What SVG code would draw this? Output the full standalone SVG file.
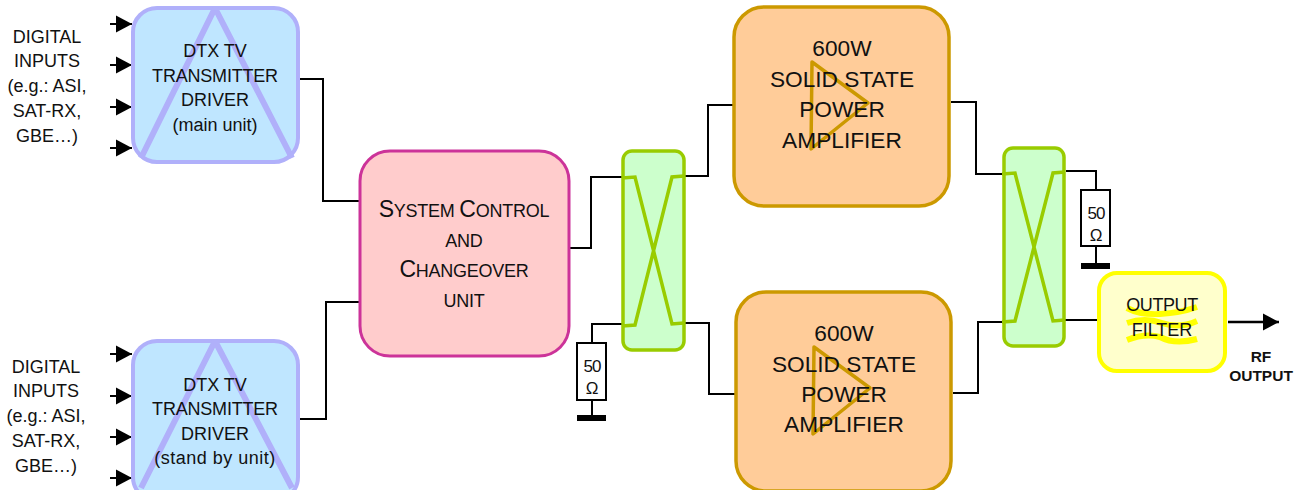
<svg xmlns="http://www.w3.org/2000/svg" width="1305" height="490" viewBox="0 0 1305 490">
<defs>
<marker id="a" markerUnits="userSpaceOnUse" markerWidth="17" markerHeight="18" refX="16" refY="9" orient="auto"><path d="M0 0.5L16 9L0 17.5Z" fill="#000"/></marker>
</defs>
<style>
text{font-family:"Liberation Sans",Arial,sans-serif;fill:#111;text-anchor:middle}
.t18{font-size:18px}.t23{font-size:22.7px}.t16{font-size:17px}
.drv{fill:#bfe6ff;stroke:#b0b0fa;stroke-width:4}
.tri1{fill:none;stroke:#b0b0fa;stroke-width:6;stroke-linejoin:bevel}
.pa{fill:#ffcc99;stroke:#cc9900;stroke-width:3.5}
.tri2{fill:none;stroke:#cc9900;stroke-width:3.5;stroke-linejoin:round}
.hyb{fill:#ccffcc;stroke:#99cc00;stroke-width:3.5}
.x{fill:none;stroke:#99cc00;stroke-width:3.5}
.w{fill:none;stroke:#000;stroke-width:2}
.in{fill:none;stroke:#000;stroke-width:2;marker-end:url(#a)}
.res{fill:#fff;stroke:#000;stroke-width:2}
.gnd{fill:#000}
.sq{fill:none;stroke:#ffff00;stroke-width:6}
</style>
<g id="connectors">
<path class="w" d="M300 79H323V201H360"/>
<path class="w" d="M299 419H326V302H360"/>
<path class="w" d="M568 248H591V177H623"/>
<path class="w" d="M684 176H708V105H734"/>
<path class="w" d="M684 323H709V394H736"/>
<path class="w" d="M951 102H976V174H1004"/>
<path class="w" d="M953 393H978V322H1004"/>
<path class="w" d="M1063 320H1098"/>
<path class="w" d="M1066 171H1096V190"/>
<path class="w" d="M1096 246V263"/>
<path class="w" d="M623 324H592V343"/>
<path class="w" d="M592 400V415"/>
<path class="in" d="M110 24H132"/>
<path class="in" d="M110 65H132"/>
<path class="in" d="M110 107H132"/>
<path class="in" d="M110 148H132"/>
<path class="in" d="M110 354H132"/>
<path class="in" d="M110 396H132"/>
<path class="in" d="M110 437H132"/>
<path class="in" d="M110 478H132"/>
<path d="M1228 322H1279" fill="none" stroke="#000" stroke-width="2.5" marker-end="url(#a)"/>
</g>
<g id="labels-top"><text class="t18"><tspan x="47" y="43">DIGITAL</tspan><tspan x="47" y="67">INPUTS</tspan><tspan x="47" y="92">(e.g.: ASI,</tspan><tspan x="47" y="117">SAT-RX,</tspan><tspan x="47" y="142">GBE…)</tspan></text></g>
<g id="labels-bottom"><text class="t18"><tspan x="46" y="373">DIGITAL</tspan><tspan x="46" y="397">INPUTS</tspan><tspan x="46" y="422">(e.g.: ASI,</tspan><tspan x="46" y="447">SAT-RX,</tspan><tspan x="46" y="472">GBE…)</tspan></text></g>
<g id="driver-main">
<rect class="drv" x="133" y="8" width="165" height="154" rx="24"/>
<path class="tri1" d="M141 158L215 8L292 158"/>
<text class="t18"><tspan x="215" y="57">DTX TV</tspan><tspan x="215" y="82" letter-spacing="-.2">TRANSMITTER</tspan><tspan x="215" y="106">DRIVER</tspan><tspan x="215" y="131">(main unit)</tspan></text>
</g>
<g id="driver-standby">
<rect class="drv" x="133" y="341" width="165" height="160" rx="24"/>
<path class="tri1" d="M141 488L215 341L292 488"/>
<text class="t18"><tspan x="215" y="391">DTX TV</tspan><tspan x="215" y="415" letter-spacing="-.2">TRANSMITTER</tspan><tspan x="215" y="440">DRIVER</tspan><tspan x="215" y="464" letter-spacing=".5">(stand by unit)</tspan></text>
</g>
<g id="control">
<rect x="360" y="151" width="209" height="205" rx="30" fill="#ffcccc" stroke="#cc3399" stroke-width="3"/>
<text letter-spacing="-.25"><tspan x="464" y="217" font-size="23">S</tspan><tspan font-size="18">YSTEM </tspan><tspan font-size="23">C</tspan><tspan font-size="18">ONTROL</tspan><tspan x="464" y="247" font-size="18">AND</tspan><tspan x="464" y="277" font-size="23">C</tspan><tspan font-size="18">HANGEOVER</tspan><tspan x="464" y="307" font-size="18">UNIT</tspan></text>
</g>
<g id="hybrid-1">
<rect class="hyb" x="623" y="151" width="61" height="199" rx="9"/>
<path class="x" d="M622 178L635 177L672 324L684 323M622 326L635 325L672 177L684 176"/>
</g>
<g id="load-1">
<rect class="res" x="577" y="343" width="29" height="57"/>
<text class="t16"><tspan x="592" y="372" letter-spacing="-1">50</tspan><tspan x="592" y="394">Ω</tspan></text>
<rect class="gnd" x="577" y="415" width="29" height="6"/>
</g>
<g id="pa-top">
<rect class="pa" x="734" y="7" width="215" height="199" rx="30"/>
<path class="tri2" d="M812 62L868 103L811 149Z"/>
<text class="t23"><tspan x="842" y="56">600W</tspan><tspan x="842" y="87">SOLID STATE</tspan><tspan x="842" y="117">POWER</tspan><tspan x="842" y="148">AMPLIFIER</tspan></text>
</g>
<g id="pa-bottom">
<rect class="pa" x="736" y="292" width="215" height="199" rx="30"/>
<path class="tri2" d="M814 347L870 388L813 434Z"/>
<text class="t23"><tspan x="844" y="341">600W</tspan><tspan x="844" y="372">SOLID STATE</tspan><tspan x="844" y="402">POWER</tspan><tspan x="844" y="432">AMPLIFIER</tspan></text>
</g>
<g id="hybrid-2">
<rect class="hyb" x="1004" y="148" width="60" height="198" rx="9"/>
<path class="x" d="M1002 174L1015 173L1053 321L1065 320M1002 322L1015 321L1053 173L1065 172"/>
</g>
<g id="load-2">
<rect class="res" x="1081" y="190" width="29" height="56"/>
<text class="t16"><tspan x="1096" y="219" letter-spacing="-1">50</tspan><tspan x="1096" y="241">Ω</tspan></text>
<rect class="gnd" x="1081" y="263" width="29" height="6"/>
</g>
<g id="filter">
<rect x="1099" y="273" width="126" height="98" rx="18" fill="#ffffcc" stroke="#ffff00" stroke-width="4"/>
<path class="sq" d="M1127 308Q1140 315 1160 314T1197 307M1127 323Q1145 317 1162 323T1197 321M1127 340Q1145 333 1160 337Q1175 345 1197 339"/>
<text class="t18"><tspan x="1162" y="311" letter-spacing="-.4">OUTPUT</tspan><tspan x="1162" y="336">FILTER</tspan></text>
</g>
<g id="rf-label"><text font-size="15.5" font-weight="bold"><tspan x="1261" y="362">RF</tspan><tspan x="1261" y="381">OUTPUT</tspan></text></g>
</svg>
